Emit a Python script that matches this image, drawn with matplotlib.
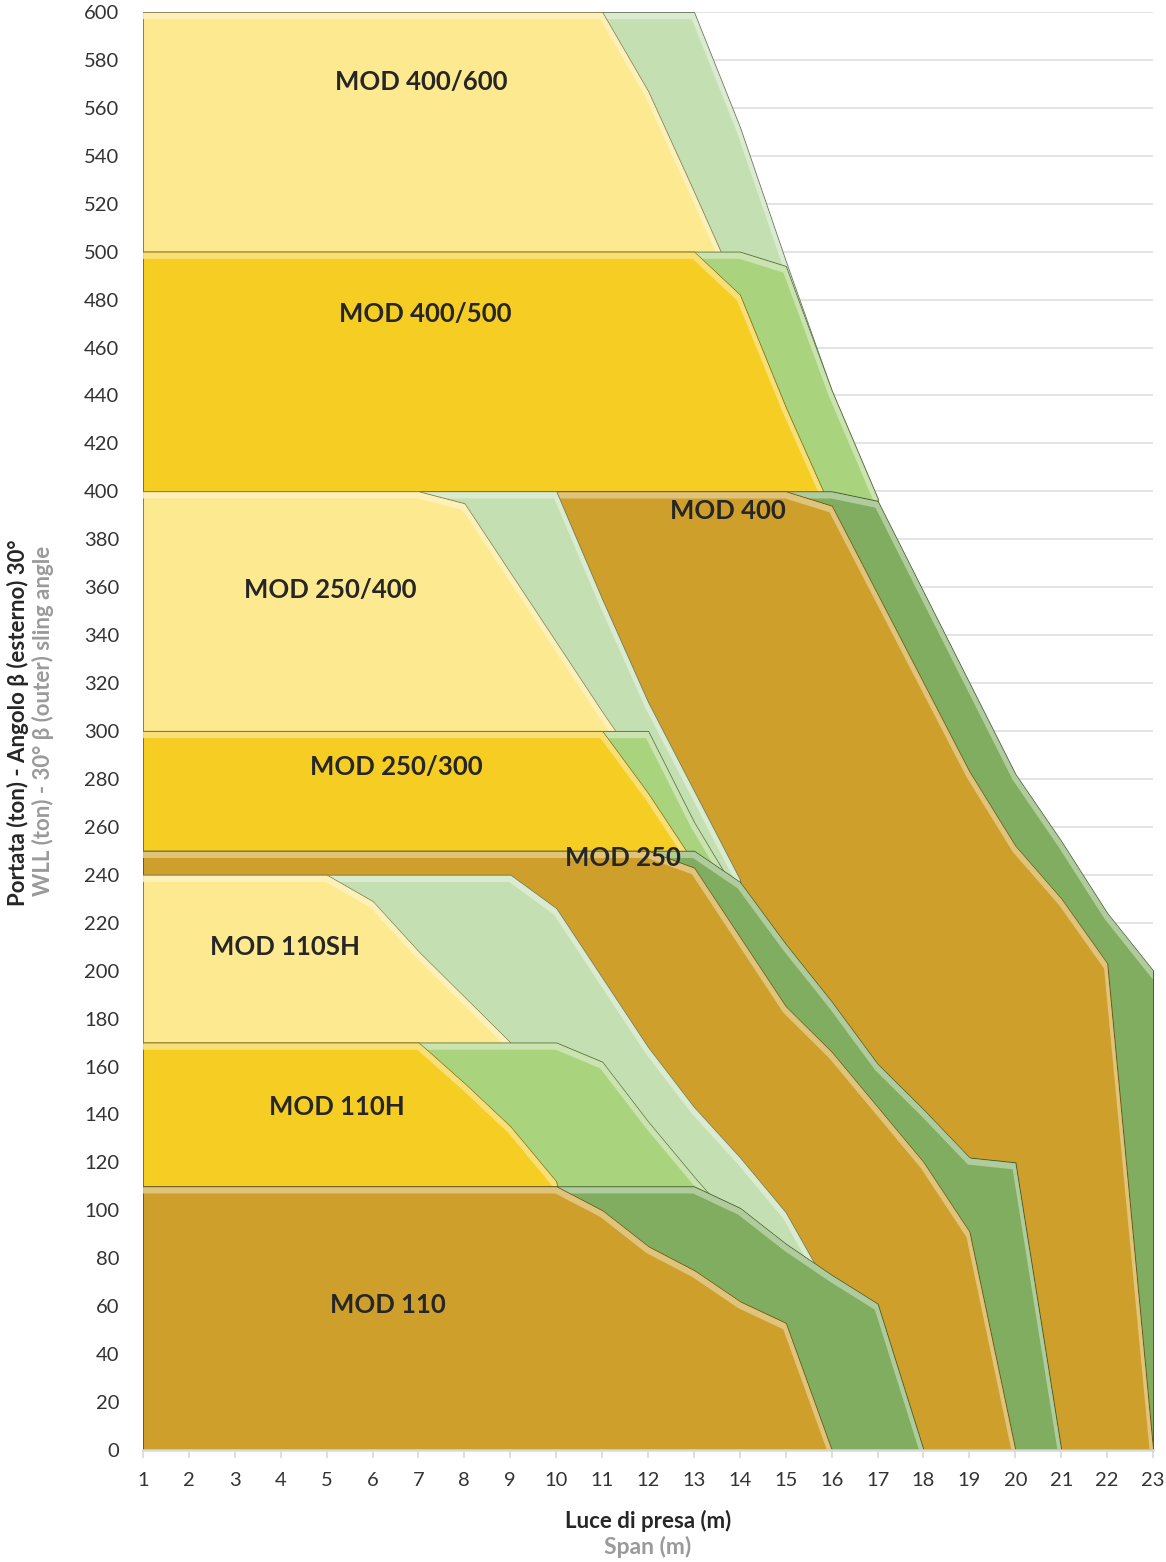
import numpy as np
import matplotlib.pyplot as plt
from matplotlib.transforms import offset_copy
from matplotlib.colors import to_rgb

plt.rcParams['font.family'] = ['Lato', 'DejaVu Sans']

# span (m)
span = np.arange(1, 24)

# WLL (ton) per module, "base" = yellow area, "ext" = green extension
mod400_600_ext = [600] * 13 + [552, 496, 442, 397] + [0] * 6
mod400_600_base = [600] * 11 + [567, 525, 482] + [0] * 9
mod400_500_ext = [500] * 14 + [494, 442, 397] + [0] * 6
mod400_500_base = [500] * 13 + [482, 435, 392] + [0] * 7
mod400_ext = [400] * 16 + [396, 358, 320, 282, 254, 224, 200]
mod400_base = [400] * 15 + [394, 357, 320, 283, 252, 230, 203, 0]
mod250_400_ext = [400] * 10 + [355, 312, 275, 238] + [0] * 9
mod250_400_base = [400] * 7 + [395, 366, 337, 308, 280] + [0] * 11
mod250_300_ext = [300] * 12 + [262, 230] + [0] * 9
mod250_300_base = [300] * 11 + [274, 245] + [0] * 10
mod250_ext = [250] * 13 + [237, 211, 187, 161, 142, 122, 120] + [0] * 3
mod250_base = [250] * 12 + [243, 214, 185, 166, 143, 120, 91] + [0] * 4
mod110sh_ext = [240] * 9 + [226, 197, 168, 143, 122, 99, 65] + [0] * 7
mod110sh_base = [240] * 5 + [229, 208, 189, 170] + [0] * 14
mod110h_ext = [170] * 10 + [162, 137, 114, 92] + [0] * 9
mod110h_base = [170] * 7 + [153, 135, 112] + [0] * 13
mod110_ext = [110] * 13 + [101, 86, 73, 61] + [0] * 6
mod110_base = [110] * 10 + [100, 85, 75, 62, 53] + [0] * 8

pale_yellow = '#FDE98F'
yellow = '#F6CD23'
gold = '#CEA02B'
pale_green = '#C4E0B3'
mid_green = '#A9D37D'
dark_green = '#80AD5F'

# back to front
layers = [
    (mod400_600_ext, pale_green), (mod400_600_base, pale_yellow),
    (mod400_500_ext, mid_green), (mod400_500_base, yellow),
    (mod400_ext, dark_green), (mod400_base, gold),
    (mod250_400_ext, pale_green), (mod250_400_base, pale_yellow),
    (mod250_300_ext, mid_green), (mod250_300_base, yellow),
    (mod250_ext, dark_green), (mod250_base, gold),
    (mod110sh_ext, pale_green), (mod110sh_base, pale_yellow),
    (mod110h_ext, mid_green), (mod110h_base, yellow),
    (mod110_ext, dark_green), (mod110_base, gold),
]

labels = [
    ('MOD 400/600', 7.06, 571), ('MOD 400/500', 7.14, 474),
    ('MOD 400', 13.74, 392), ('MOD 250/400', 5.07, 359),
    ('MOD 250/300', 6.51, 285), ('MOD 250', 11.46, 247),
    ('MOD 110SH', 4.09, 210), ('MOD 110H', 5.23, 143),
    ('MOD 110', 6.34, 60.5),
]


def shade(c, f):
    r = np.array(to_rgb(c))
    if f > 0:
        return tuple(r + (1 - r) * f)
    return tuple(r * (1 + f))


fig = plt.figure(figsize=(11.66, 15.62), dpi=100)
ax = fig.add_axes([0.1226, 0.0717, 0.8663, 0.9206])

ax.set_xlim(1, 23)
ax.set_ylim(0, 600)
ax.set_yticks(np.arange(0, 601, 20))
ax.set_xticks(span)
ax.grid(axis='y', color='#DEDEDE', lw=1.2, zorder=0)
ax.set_axisbelow(True)

hi_trans = offset_copy(ax.transData, fig=fig, x=0, y=-4, units='dots')
for i, (vals, col) in enumerate(layers):
    z = 2 + i * 3
    v = np.array(vals, dtype=float)
    poly = ax.fill_between(span, 0, v, facecolor=col,
                           edgecolor=shade(col, -0.45), lw=0.8, zorder=z)
    clip = poly.get_paths()[0]
    hl, = ax.plot(span, v, color=shade(col, 0.45), lw=4.5, alpha=0.85,
                  transform=hi_trans, zorder=z + 1, solid_joinstyle='miter')
    hl.set_clip_path(clip, ax.transData)

for txt, lx, ly in labels:
    ax.text(lx, ly, txt, ha='center', va='center', fontsize=18.5,
            fontweight='bold', color='#262626', zorder=100)

for s in ['top', 'right', 'left']:
    ax.spines[s].set_visible(False)
ax.spines['bottom'].set_color('#D9D9D9')
ax.spines['bottom'].set_linewidth(1.8)
ax.spines['bottom'].set_zorder(90)
ax.tick_params(axis='y', length=0, pad=17, labelsize=14.5, labelcolor='#333333')
ax.tick_params(axis='x', length=6, width=1.2, color='#D9D9D9', pad=10,
               labelsize=14.5, labelcolor='#333333')

fig.text(0.5557, 0.0263, 'Luce di presa (m)', ha='center', va='center',
         fontsize=16, fontweight='bold', color='#262626')
fig.text(0.5557, 0.0096, 'Span (m)', ha='center', va='center',
         fontsize=16.5, fontweight='bold', color='#9A9A9A')
fig.text(0.0154, 0.5374, 'Portata (ton) - Angolo β (esterno) 30°', rotation=90,
         ha='center', va='center', fontsize=16, fontweight='bold', color='#262626')
fig.text(0.0369, 0.5384, 'WLL (ton) - 30° β (outer) sling angle', rotation=90,
         ha='center', va='center', fontsize=16, fontweight='bold', color='#9A9A9A')

fig.savefig('out.png', dpi=100)
